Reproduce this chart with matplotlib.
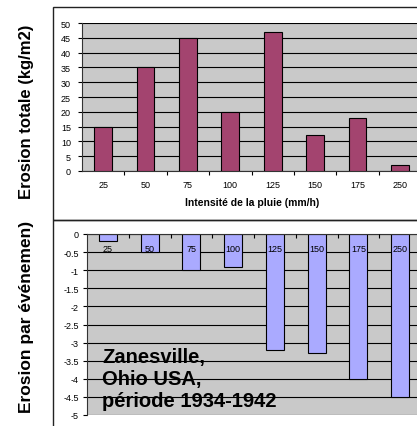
import matplotlib
matplotlib.use("Agg")
import numpy as np
import matplotlib.pyplot as plt
from matplotlib.patches import Rectangle

# rainfall intensity classes (mm/h)
intensites = ["25", "50", "75", "100", "125", "150", "175", "250"]
# total erosion (kg/m2)
erosion_totale = [15, 35, 45, 20, 47, 12, 18, 2]
# erosion per event
erosion_evenement = [-0.2, -0.5, -1.0, -0.9, -3.2, -3.3, -4.0, -4.5]

W, H = 417, 427
plt.rcParams['font.family'] = ['Liberation Sans', 'DejaVu Sans']

fig = plt.figure(figsize=(W / 100, H / 100), dpi=100)

def box(left, top, right, bottom):
    # pixel box -> figure fraction [l, b, w, h]
    return [left / W, (H - bottom) / H, (right - left) / W, (bottom - top) / H]

gris = '#c9c9c9'
x = np.arange(len(intensites))

# outer frames round each chart
for top, bottom in [(8, 221), (221, 430)]:
    fig.add_artist(Rectangle((53 / W, (H - bottom) / H), 1.0, (bottom - top) / H,
                             transform=fig.transFigure, fill=False,
                             edgecolor='#222222', linewidth=1.0))

# ---- top chart: total erosion
ax1 = fig.add_axes(box(82, 24, 421, 172))
ax1.set_facecolor(gris)
ax1.bar(x, erosion_totale, width=0.42, color='#a3446f', edgecolor='black',
        linewidth=0.8, zorder=3)
ax1.set_xlim(-0.5, len(intensites) - 0.5)
ax1.set_ylim(0, 50)
ax1.set_yticks(np.arange(0, 51, 5))
ax1.yaxis.grid(True, color='black', linewidth=0.8)
ax1.set_axisbelow(True)
ax1.set_xticks(x[:-1] + 0.5)
ax1.set_xticklabels([])
ax1.set_xticks(x, minor=True)
ax1.set_xticklabels(intensites, minor=True)
ax1.tick_params(axis='x', which='major', direction='out', length=3, width=0.8)
ax1.tick_params(axis='x', which='minor', length=0, pad=6.5, labelsize=6.5)
ax1.tick_params(axis='y', direction='out', length=3, width=0.8, pad=5, labelsize=6.5)
for s in ['top', 'right']:
    ax1.spines[s].set_visible(False)
for s in ['left', 'bottom']:
    ax1.spines[s].set_color('#333333')
    ax1.spines[s].set_linewidth(0.8)
fig.text(252 / W, (H - 203) / H, "Intensité de la pluie (mm/h)", ha='center',
         va='center', fontsize=7.5, fontweight='bold')
fig.text(27 / W, (H - 112) / H, "Erosion totale (kg/m2)", rotation=90,
         ha='center', va='center', fontsize=12, fontweight='bold')

# ---- bottom chart: erosion per event
ax2 = fig.add_axes(box(87, 235, 421, 416))
ax2.set_facecolor(gris)
ax2.bar(x, erosion_evenement, width=0.43, color='#aaaaff', edgecolor='black',
        linewidth=0.8, zorder=1)
ax2.set_xlim(-0.5, len(intensites) - 0.5)
ax2.set_ylim(-5, 0)
ax2.set_yticks(np.arange(-5, 0.01, 0.5))
ax2.set_yticklabels(["%g" % v for v in np.arange(-5, 0.01, 0.5)])
ax2.yaxis.grid(True, color='black', linewidth=0.8)
ax2.set_axisbelow(True)
# category labels sit on top of the bars
ax2.xaxis.set_zorder(4)
ax2.spines['bottom'].set_position(('data', 0))
ax2.spines['bottom'].set_zorder(4)
ax2.set_xticks(x[:-1] + 0.5)
ax2.set_xticklabels([])
ax2.set_xticks(x, minor=True)
ax2.set_xticklabels(intensites, minor=True)
ax2.tick_params(axis='x', which='major', direction='out', length=3, width=0.8)
ax2.tick_params(axis='x', which='minor', length=0, pad=7, labelsize=6.5)
ax2.tick_params(axis='y', direction='out', length=3, width=0.8, pad=3, labelsize=6.5)
for s in ['top', 'right']:
    ax2.spines[s].set_visible(False)
for s in ['left', 'bottom']:
    ax2.spines[s].set_color('#333333')
    ax2.spines[s].set_linewidth(0.8)
ax2.text(102 / W, (H - 407) / H, "Zanesville,\nOhio USA,\npériode 1934-1942",
         transform=fig.transFigure, ha='left', va='baseline', fontsize=14.5,
         fontweight='bold', linespacing=1.2, zorder=5)
fig.text(27 / W, (H - 317) / H, "Erosion par événemen)", rotation=90,
         ha='center', va='center', fontsize=12.5, fontweight='bold')

fig.savefig("out.png", dpi=100)
